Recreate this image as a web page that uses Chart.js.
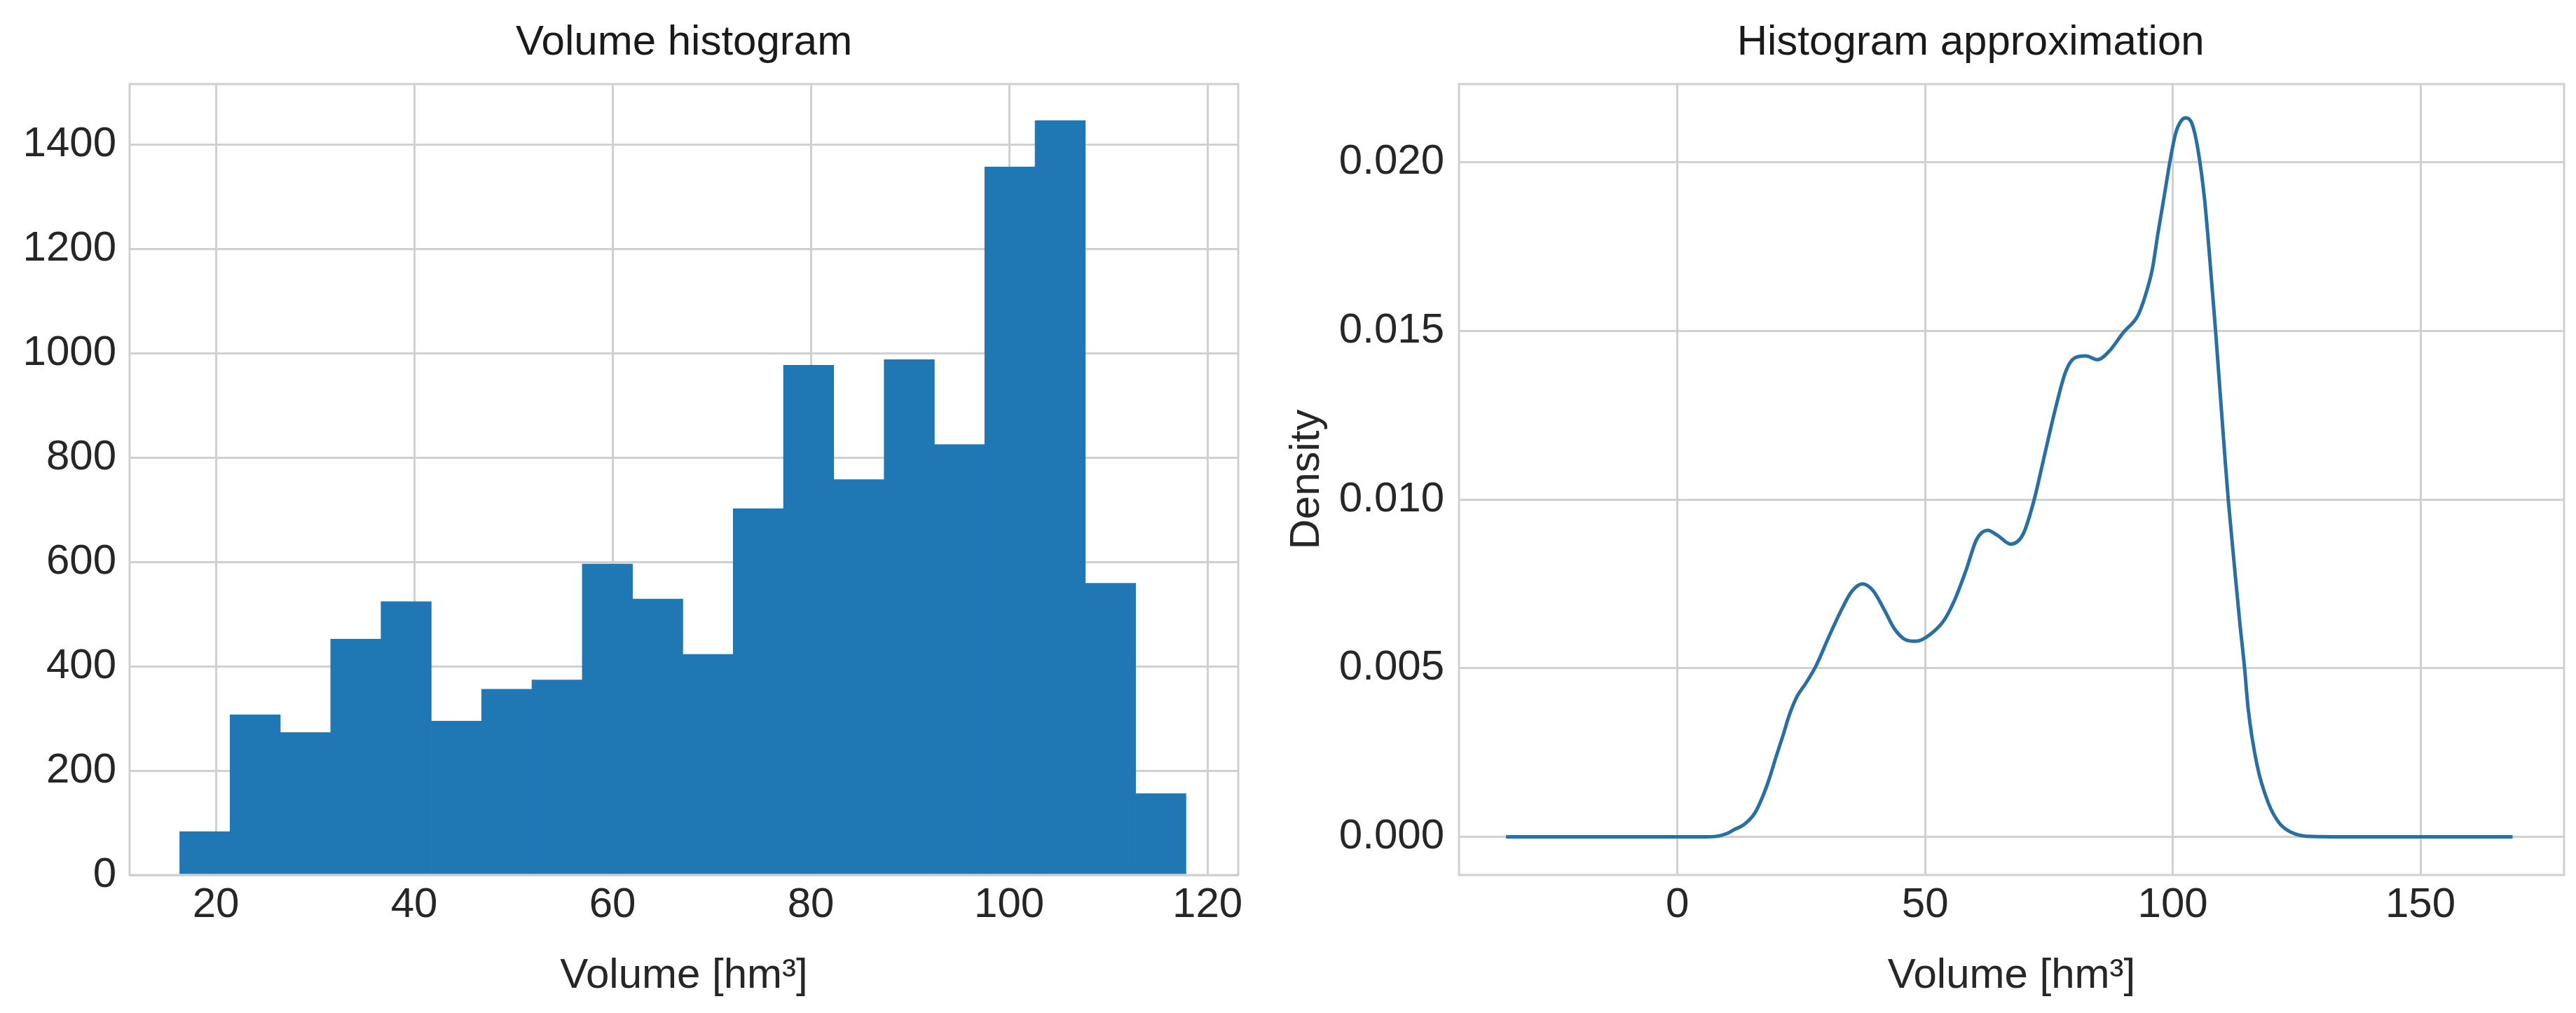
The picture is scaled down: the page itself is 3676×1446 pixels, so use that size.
<!DOCTYPE html>
<html>
<head>
<meta charset="utf-8">
<script src="https://cdn.jsdelivr.net/npm/chart.js@4/dist/chart.umd.min.js"></script>
<style>
  html, body { margin: 0; padding: 0; background: #ffffff; }
  .panel { position: absolute; top: 0; }
</style>
</head>
<body>
<div class="panel" style="left:0px;width:1818px;height:1446px"><canvas id="hist" width="1818" height="1446"></canvas></div>
<div class="panel" style="left:1818px;width:1858px;height:1446px"><canvas id="kde" width="1858" height="1446"></canvas></div>
<script>
// ---------- data ----------
const binEdges = [16.35, 21.42, 26.50, 31.57, 36.65, 41.72, 46.79, 51.87, 56.94, 62.02, 67.09,
                  72.16, 77.24, 82.31, 87.39, 92.46, 97.53, 102.61, 107.68, 112.76, 117.83];
const binCounts = [83, 307, 273, 452, 524, 295, 356, 374, 596, 529,
                   423, 702, 977, 758, 988, 825, 1357, 1446, 559, 156];
const histXTicks = [20, 40, 60, 80, 100, 120];
const histXTickLabels = ['20', '40', '60', '80', '100', '120'];
const histYTicks = [0, 200, 400, 600, 800, 1000, 1200, 1400];
const histYTickLabels = ['0', '200', '400', '600', '800', '1000', '1200', '1400'];

const kdeX = [-34.6, -10, 5, 8, 10, 11.5, 13.4, 15.6, 17.2, 18.6,
              19.9, 21.3, 22.6, 24.2, 25.9, 28.0, 30.5, 33.0, 35.2, 37.4,
              39.5, 41.7, 43.8, 46.0, 48.2, 51.0, 53.9, 56.1, 58.3, 60.4,
              62.6, 64.7, 67.3, 69.8, 71.9, 74.1, 76.3, 78.4, 80.2, 82.4,
              84.8, 87.1, 90.0, 93.0, 94.4, 95.9, 97.0, 98.2, 99.4, 100.6,
              101.8, 102.7, 103.9, 105.0, 106.4, 107.4, 108.6, 110.5, 111.2, 112.4,
              113.5, 114.5, 115.2, 117.0, 119.3, 121.6, 124.0, 127.0, 140, 168.6];
const kdeY = [0, 0, 0, 0.00002, 0.0001, 0.00022, 0.00036, 0.0007, 0.00119, 0.00175,
              0.00237, 0.003, 0.00362, 0.00418, 0.00455, 0.00508, 0.00591, 0.0067, 0.00728, 0.0075,
              0.0073, 0.00675, 0.00617, 0.00585, 0.0058, 0.006, 0.00644, 0.00707, 0.00792, 0.00882,
              0.00909, 0.00893, 0.00868, 0.00898, 0.00993, 0.01131, 0.01269, 0.0138, 0.0142, 0.01426,
              0.01415, 0.01439, 0.01495, 0.01547, 0.01602, 0.01685, 0.01789, 0.01893, 0.0200, 0.02087,
              0.02125, 0.02132, 0.02114, 0.02045, 0.01893, 0.01727, 0.01508, 0.01131, 0.0100, 0.0081,
              0.0064, 0.0050, 0.00383, 0.00214, 0.0010, 0.00039, 0.00013, 0.00002, 0, 0];
const kdeXTicks = [0, 50, 100, 150];
const kdeXTickLabels = ['0', '50', '100', '150'];
const kdeYTicks = [0, 0.005, 0.010, 0.015, 0.020];
const kdeYTickLabels = ['0.000', '0.005', '0.010', '0.015', '0.020'];

// ---------- styling ----------
const FONT = "'Liberation Sans', Arial, Helvetica, sans-serif";
const TICK_COLOR = '#262626';
const GRID_COLOR = '#d0d0d0';
const BAR_COLOR = '#1f77b4';
const LINE_COLOR = '#2a6fa3';
const FS = 60;

const framePlugin = {
  id: 'frame',
  afterDatasetsDraw(chart) {
    const { ctx, chartArea: a } = chart;
    ctx.save();
    ctx.strokeStyle = GRID_COLOR;
    ctx.lineWidth = 3;
    ctx.strokeRect(a.left, a.top, a.right - a.left, a.bottom - a.top);
    ctx.restore();
  }
};

function setTicks(list) {
  return s => { s.ticks = list.map(v => ({ value: v })); };
}
function gridOpts() {
  return { color: GRID_COLOR, lineWidth: 3, drawTicks: false, offset: false };
}
function tickOpts(labels, pad) {
  return {
    font: { family: FONT, size: FS }, color: TICK_COLOR, padding: pad,
    maxRotation: 0, autoSkip: false,
    callback: (v, i) => labels[i]
  };
}

// ---------- left: histogram ----------
const histData = binCounts.map((c, i) => ({ x: (binEdges[i] + binEdges[i + 1]) / 2, y: c }));

new Chart(document.getElementById('hist'), {
  type: 'bar',
  data: {
    datasets: [{
      data: histData,
      backgroundColor: BAR_COLOR,
      borderWidth: 0,
      barPercentage: 1,
      categoryPercentage: 1
    }]
  },
  options: {
    responsive: false,
    devicePixelRatio: 1,
    animation: false,
    layout: { padding: { left: 0, right: 51, top: 0, bottom: 0 } },
    plugins: {
      legend: { display: false },
      tooltip: { enabled: false },
      title: {
        display: true, text: 'Volume histogram', fullSize: false,
        font: { family: FONT, size: FS, weight: 'normal' }, color: '#1a1a1a',
        padding: { top: 25, bottom: 23 }
      }
    },
    scales: {
      x: {
        type: 'linear', min: 11.3, max: 123.1, offset: false,
        afterBuildTicks: setTicks(histXTicks),
        afterFit: s => { s.height = 197; },
        grid: gridOpts(),
        border: { display: false },
        ticks: tickOpts(histXTickLabels, 7),
        title: {
          display: true, text: 'Volume [hm³]',
          font: { family: FONT, size: FS }, color: TICK_COLOR,
          padding: { top: 0, bottom: 17 }
        }
      },
      y: {
        type: 'linear', min: 0, max: 1516,
        afterBuildTicks: setTicks(histYTicks),
        afterFit: s => { s.width = 185; },
        grid: gridOpts(),
        border: { display: false },
        ticks: tickOpts(histYTickLabels, 19)
      }
    }
  },
  plugins: [framePlugin]
});

// ---------- right: density ----------
const kdeData = kdeX.map((x, i) => ({ x: x, y: kdeY[i] }));

new Chart(document.getElementById('kde'), {
  type: 'line',
  data: {
    datasets: [{
      data: kdeData,
      borderColor: LINE_COLOR,
      borderWidth: 5,
      pointRadius: 0,
      fill: false,
      cubicInterpolationMode: 'monotone'
    }]
  },
  options: {
    responsive: false,
    devicePixelRatio: 1,
    animation: false,
    layout: { padding: { left: 0, right: 17, top: 0, bottom: 0 } },
    plugins: {
      legend: { display: false },
      tooltip: { enabled: false },
      title: {
        display: true, text: 'Histogram approximation       ', fullSize: false,
        font: { family: FONT, size: FS, weight: 'normal' }, color: '#1a1a1a',
        padding: { top: 25, bottom: 23 }
      }
    },
    scales: {
      x: {
        type: 'linear', min: -44.1, max: 179.0,
        afterBuildTicks: setTicks(kdeXTicks),
        afterFit: s => { s.height = 197; },
        grid: gridOpts(),
        border: { display: false },
        ticks: tickOpts(kdeXTickLabels, 7),
        title: {
          display: true, text: 'Volume [hm³]',
          font: { family: FONT, size: FS }, color: TICK_COLOR,
          padding: { top: 0, bottom: 17 }
        }
      },
      y: {
        type: 'linear', min: -0.00113, max: 0.02232,
        afterBuildTicks: setTicks(kdeYTicks),
        afterFit: s => { s.width = 264; },
        grid: gridOpts(),
        border: { display: false },
        ticks: tickOpts(kdeYTickLabels, 21),
        title: {
          display: true, text: 'Density',
          font: { family: FONT, size: FS }, color: TICK_COLOR,
          padding: { top: 11, bottom: 0 }
        }
      }
    }
  },
  plugins: [framePlugin]
});
</script>
</body>
</html>
